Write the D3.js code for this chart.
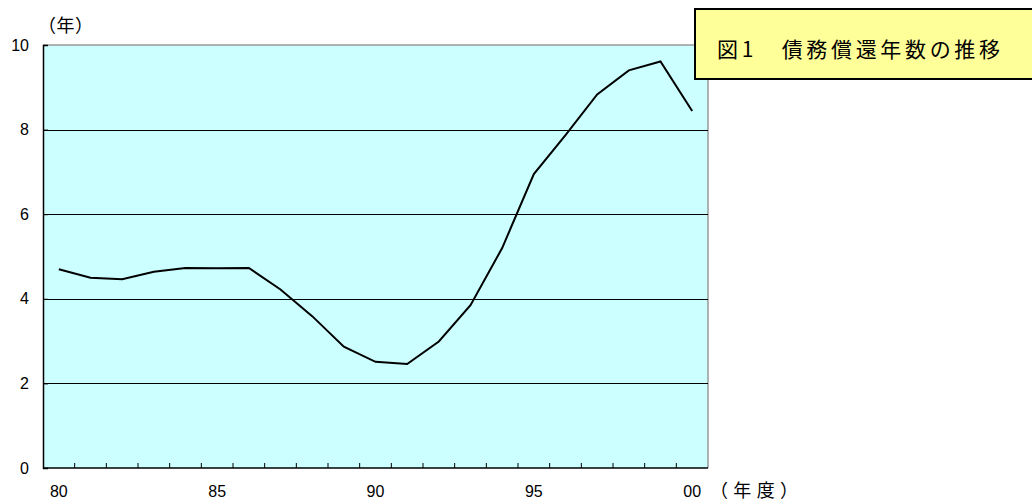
<!DOCTYPE html>
<html><head><meta charset="utf-8">
<script src="https://cdn.jsdelivr.net/npm/d3@7"></script>
<style>body{margin:0;background:#fff}svg{display:block}</style>
</head><body><svg id="c" width="1032" height="501"></svg>
<script>
const years = ["80","81","82","83","84","85","86","87","88","89","90","91","92","93","94","95","96","97","98","99","00"];
const values = [4.70,4.50,4.46,4.64,4.73,4.72,4.73,4.22,3.59,2.87,2.51,2.46,2.99,3.85,5.20,6.95,7.87,8.83,9.40,9.61,8.44];
const xTickLabels = ["80","85","90","95","00"];
const yTicks = [0,2,4,6,8,10];
const title = "図1　債務償還年数の推移";
const yUnit = "（年）";
const xUnit = "（年度）";

const svg = d3.select("#c");
const L=43,R=708,T=45,B=468;
const x = d3.scaleBand().domain(years).range([L,R]);
const y = d3.scaleLinear().domain([0,10]).range([B,T]);
const numFont = "'Liberation Sans', Arial, sans-serif";
const jpFont = "'Noto Sans CJK JP', sans-serif";

svg.append("rect").attr("x",L).attr("y",T).attr("width",R-L).attr("height",B-T).attr("fill","#ccffff");
svg.append("path").attr("d",`M${L},${T}H${R}V${B}`).attr("fill","none").attr("stroke","#999").attr("stroke-width",1.5);
svg.selectAll(".g").data(yTicks.filter(d=>d>0&&d<10)).join("line")
  .attr("x1",L).attr("x2",R).attr("y1",d=>Math.round(y(d))+0.5).attr("y2",d=>Math.round(y(d))+0.5)
  .attr("stroke","#000").attr("stroke-width",1);
const ya = svg.append("g").attr("transform",`translate(${L},0)`)
  .call(d3.axisLeft(y).tickValues(yTicks).tickSize(-5).tickPadding(14));
ya.select(".domain").attr("stroke","#000").attr("stroke-width",1.5);
ya.selectAll("text").attr("font-family",numFont).attr("font-size",16).attr("fill","#000");
const bounds = years.slice(1).map(d=>x(d));
const xg = svg.append("g").attr("transform",`translate(0,${B})`);
xg.append("line").attr("x1",L).attr("x2",R).attr("stroke","#000").attr("stroke-width",1.5);
xg.selectAll(".t").data(bounds).join("line").attr("x1",d=>d).attr("x2",d=>d).attr("y1",0).attr("y2",-5).attr("stroke","#000");
xg.selectAll(".l").data(xTickLabels).join("text").attr("x",d=>x(d)+x.bandwidth()/2).attr("y",29)
  .attr("text-anchor","middle").attr("font-family",numFont).attr("font-size",16).text(d=>d);
const line = d3.line().x((d,i)=>x(years[i])+x.bandwidth()/2).y(d=>y(d));
svg.append("path").datum(values).attr("d",line).attr("fill","none").attr("stroke","#000").attr("stroke-width",2);
svg.append("text").attr("x",38).attr("y",32).attr("font-family",jpFont).attr("font-size",18)
  .attr("textLength",55).text(yUnit);
svg.append("text").attr("x",710).attr("y",497).attr("font-family",jpFont).attr("font-size",18)
  .attr("textLength",88).text(xUnit);
svg.append("rect").attr("x",695).attr("y",9).attr("width",340).attr("height",70).attr("fill","#ffff99").attr("stroke","#000").attr("stroke-width",2);
svg.append("text").attr("x",717).attr("y",57).attr("font-family",jpFont).attr("font-size",21)
  .attr("textLength",283).text(title);
</script></body></html>
